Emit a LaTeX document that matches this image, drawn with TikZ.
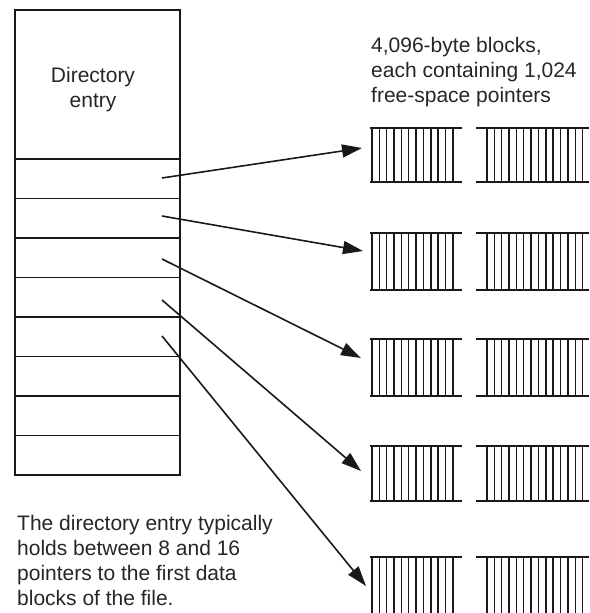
\documentclass[tikz,border=0pt]{standalone}
\usepackage{fontspec}
\setmainfont{Liberation Sans}
\usetikzlibrary{arrows.meta}
\tikzset{
  cell/.style={minimum width=165pt, inner sep=0pt, outer sep=0pt, anchor=north west},
  frame/.style={draw=black!90, line width=1.5pt},
  ptr/.style={line width=1.6pt, draw=black!90, -{Triangle[length=20pt,width=13pt]}},
  bar/.style={line width=1.4pt, draw=black!90},
  label/.style={font=\fontsize{21}{25}\selectfont, inner sep=0pt, text=black!85},
}
\begin{document}
\begin{tikzpicture}[x=1pt,y=-1pt]
\useasboundingbox (0,0) rectangle (589,613);
% directory entry column
\node[cell, minimum height=149pt] (head) at (15,10) {};
\foreach \i in {1,...,8}{
  \node[cell, minimum height=39.5pt] (c\i) at (15,{159+39.5*(\i-1)}) {};
}
\draw[frame] (head.north west) rectangle (c8.south east);
\foreach \i in {1,...,8}{ \draw[frame] (c\i.north west) -- (c\i.north east); }
\node[label, anchor=base] (h1) at (93,82) {Directory};
\node[label, anchor=base] (h2) at (93,107) {entry};
% pointer start points and targets
\coordinate (p1) at (162,178);
\coordinate (p2) at (162,216);
\coordinate (p3) at (162,259);
\coordinate (p4) at (162,300);
\coordinate (p5) at (162,336);
\coordinate (t1) at (362,148);
\coordinate (t2) at (363,251);
\coordinate (t3) at (361,358);
\coordinate (t4) at (361,471);
\coordinate (t5) at (366,586);
\foreach \i in {1,...,5}{ \draw[ptr] (p\i) -- (t\i); }
% blocks
\foreach \top/\bot in {128/182, 233/290, 339/396, 446/501, 557/620}{
  \draw[bar] (370,\top) -- (462,\top);
  \draw[bar] (370,\bot) -- (462,\bot);
  \foreach \k in {0,...,11}{ \draw[bar] ({372+7.35*\k},\top) -- ({372+7.35*\k},\bot); }
  \draw[bar] (476,\top) -- (589,\top);
  \draw[bar] (476,\bot) -- (589,\bot);
  \foreach \k in {0,...,13}{ \draw[bar] ({487+7.35*\k},\top) -- ({487+7.35*\k},\bot); }
}
% texts
\node[label, anchor=base west] (r1) at (371,52) {4,096-byte blocks,};
\node[label, anchor=base west] (r2) at (371,77) {each containing 1,024};
\node[label, anchor=base west] (r3) at (371,102) {free-space pointers};
\node[label, anchor=base west] (b1) at (17,530) {The directory entry typically};
\node[label, anchor=base west] (b2) at (17,555) {holds between 8 and 16};
\node[label, anchor=base west] (b3) at (17,580) {pointers to the first data};
\node[label, anchor=base west] (b4) at (17,605) {blocks of the file.};
\end{tikzpicture}
\end{document}
